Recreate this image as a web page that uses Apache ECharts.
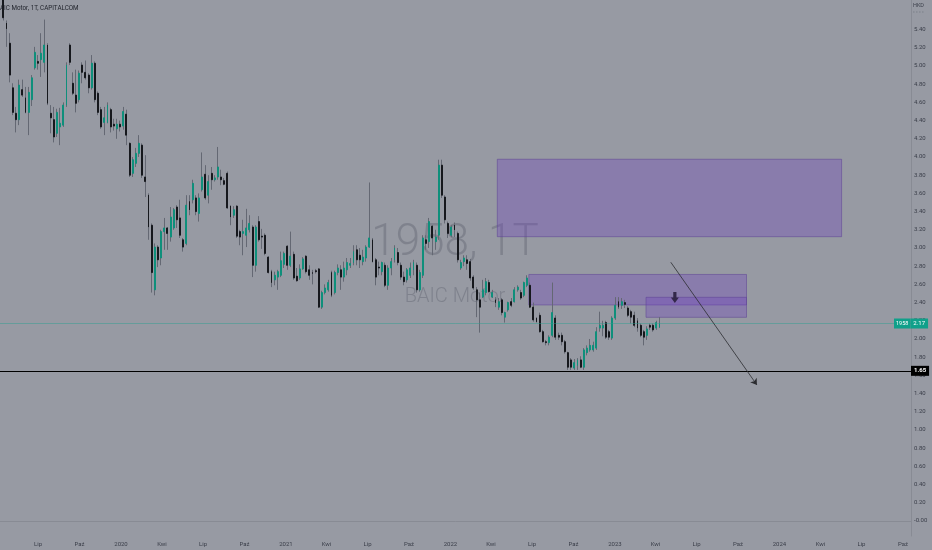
<!DOCTYPE html>
<html><head><meta charset="utf-8">
<script src="https://cdn.jsdelivr.net/npm/echarts@6/dist/echarts.min.js"></script>
<style>html,body{margin:0;padding:0;background:#979aa3;}#c{width:932px;height:550px;}</style>
</head><body><div id="c"></div>
<script>
const tickerCode = '1958';
const headerText = 'BAIC Motor, 1T, CAPITALCOM';
const watermarkMain = '1958, 1T';
const watermarkSub = 'BAIC Motor';
const firstWeek = '2019-04-15';

const open = [5.90,5.47,5.25,4.76,4.48,4.41,4.74,4.65,4.49,4.63,
4.98,5.05,5.07,5.04,5.23,4.48,4.41,4.26,4.33,4.35,
4.57,5.23,4.81,4.68,4.63,5.01,4.93,4.90,4.76,5.03,
4.70,4.52,4.38,4.38,4.52,4.36,4.31,4.36,4.34,4.47,
4.15,3.82,3.93,4.04,4.13,3.78,3.58,3.25,2.54,3.01,
2.89,3.18,3.22,3.12,3.22,3.45,3.33,3.09,3.05,3.51,
3.53,3.55,3.38,3.64,3.81,3.58,3.82,3.75,3.78,3.78,
3.74,3.82,3.46,3.36,3.46,3.18,3.16,3.14,3.20,3.23,
2.81,3.29,3.13,3.14,2.90,2.74,2.65,2.68,2.70,2.82,
3.02,2.81,2.93,2.69,2.67,2.77,2.91,2.76,2.73,2.75,
2.77,2.35,2.51,2.54,2.73,2.51,2.73,2.76,2.68,2.76,
2.81,2.84,2.98,2.92,2.85,2.89,3.01,3.09,2.87,2.79,
2.74,2.81,2.59,2.78,2.87,2.95,2.81,2.68,2.65,2.70,
2.76,2.81,2.54,2.70,3.09,3.07,3.24,3.07,3.14,3.91,
3.56,3.27,3.14,3.25,3.16,2.78,2.85,2.87,2.85,2.68,
2.54,2.43,2.46,2.51,2.62,2.46,2.43,2.35,2.43,2.24,
2.32,2.41,2.41,2.54,2.51,2.48,2.59,2.59,2.35,2.23,
2.26,2.08,1.97,1.96,2.04,2.23,2.04,2.04,1.97,1.85,
1.77,1.68,1.71,1.77,1.69,1.85,1.88,1.88,1.90,2.12,
2.12,2.18,2.08,2.01,2.23,2.41,2.37,2.40,2.34,2.30,
2.26,2.20,2.15,2.08,2.04,2.15,2.15,2.12,2.13];

const high = [5.98,5.50,5.36,4.81,4.55,4.85,4.85,4.77,4.77,4.90,
5.21,5.12,5.36,5.51,5.25,4.57,4.55,4.53,4.54,4.60,
5.04,5.25,4.93,4.96,4.95,5.04,5.06,4.92,5.12,5.05,
4.72,4.55,4.55,4.60,4.54,4.42,4.42,4.40,4.55,4.52,
4.16,4.00,4.10,4.24,4.15,4.02,3.60,3.27,3.05,3.03,
3.20,3.33,3.23,3.45,3.44,3.47,3.53,3.11,3.58,3.58,
3.75,3.58,3.60,4.05,3.91,3.80,3.89,3.80,4.11,3.86,
3.77,3.84,3.47,3.46,3.47,3.20,3.31,3.43,3.36,3.25,
3.25,3.35,3.21,3.16,2.91,2.76,2.74,2.76,2.96,2.96,
3.03,3.18,2.96,2.78,2.82,2.90,2.92,2.81,2.76,2.77,
2.78,2.53,2.60,2.65,2.75,2.75,2.82,2.81,2.85,2.89,
2.89,3.03,3.03,3.00,2.98,3.03,3.72,3.11,2.89,2.85,
2.85,2.84,2.81,2.89,3.03,3.00,2.84,2.74,2.78,2.84,
2.87,2.84,2.76,3.14,3.14,3.33,3.25,3.20,3.97,3.97,
3.58,3.29,3.25,3.28,3.18,2.87,2.92,2.92,2.88,2.70,
2.57,2.51,2.65,2.67,2.65,2.54,2.46,2.45,2.45,2.30,
2.41,2.45,2.57,2.59,2.54,2.63,2.70,2.62,2.40,2.24,
2.29,2.10,1.99,2.04,2.62,2.26,2.07,2.07,1.99,1.86,
1.79,1.78,1.79,1.81,1.90,1.93,2.00,1.97,2.13,2.30,
2.20,2.20,2.10,2.25,2.46,2.46,2.45,2.43,2.36,2.32,
2.30,2.23,2.17,2.10,2.14,2.17,2.17,2.20,2.24];

const low = [5.50,5.21,4.82,4.46,4.27,4.35,4.66,4.48,4.24,4.56,
4.96,4.96,4.88,4.93,4.57,4.26,4.16,4.22,4.13,4.33,
4.55,5.01,4.68,4.49,4.60,4.81,4.85,4.70,4.74,4.60,
4.46,4.31,4.24,4.37,4.27,4.29,4.20,4.28,4.30,4.13,
3.78,3.78,3.89,4.00,3.77,3.56,3.09,2.51,2.48,2.79,
2.81,2.98,2.98,3.07,3.20,3.22,3.11,2.96,3.03,3.36,
3.49,3.36,3.29,3.62,3.53,3.49,3.64,3.73,3.75,3.69,
3.69,3.43,3.25,3.33,3.11,3.03,2.92,3.01,3.17,2.68,
2.74,3.07,2.99,2.92,2.72,2.57,2.59,2.54,2.68,2.78,
2.76,2.79,2.65,2.63,2.65,2.76,2.72,2.65,2.60,2.72,
2.34,2.33,2.49,2.52,2.46,2.49,2.70,2.54,2.63,2.70,
2.78,2.81,2.81,2.78,2.81,2.85,3.00,2.84,2.59,2.70,
2.70,2.57,2.54,2.70,2.84,2.81,2.65,2.59,2.62,2.67,
2.70,2.51,2.52,2.67,2.98,3.00,2.92,2.98,3.09,3.55,
3.27,3.11,3.12,3.12,2.84,2.76,2.80,2.76,2.64,2.54,
2.24,2.07,2.45,2.48,2.51,2.45,2.35,2.32,2.26,2.18,
2.30,2.35,2.40,2.52,2.43,2.46,2.57,2.34,2.19,2.18,
2.07,1.96,1.93,1.93,2.02,1.99,1.99,1.93,1.84,1.66,
1.66,1.66,1.66,1.68,1.66,1.82,1.86,1.86,1.88,2.08,
2.03,2.00,1.99,1.99,2.21,2.33,2.33,2.34,2.24,2.17,
2.13,2.08,2.02,1.93,1.99,2.10,2.08,2.10,2.12];

const close = [5.53,5.41,4.90,4.49,4.41,4.79,4.68,4.49,4.71,4.87,
5.15,5.03,5.14,5.23,4.59,4.43,4.22,4.49,4.37,4.57,
5.01,5.04,4.70,4.59,4.92,4.93,4.87,4.76,5.03,4.63,
4.49,4.33,4.43,4.57,4.33,4.34,4.36,4.33,4.50,4.24,
3.80,3.97,4.04,4.15,3.80,3.73,3.23,2.73,3.01,2.87,
3.18,3.22,3.16,3.34,3.42,3.31,3.14,3.01,3.47,3.42,
3.71,3.40,3.55,3.78,3.55,3.73,3.75,3.77,3.89,3.75,
3.70,3.44,3.34,3.42,3.13,3.12,3.18,3.22,3.27,2.81,
3.23,3.09,3.12,2.94,2.73,2.62,2.70,2.74,2.86,2.94,
2.81,2.91,2.67,2.64,2.77,2.88,2.74,2.70,2.72,2.74,
2.35,2.51,2.56,2.62,2.48,2.73,2.78,2.68,2.78,2.84,
2.83,2.96,2.87,2.87,2.90,3.01,3.11,2.85,2.68,2.78,
2.84,2.59,2.78,2.85,3.00,2.84,2.68,2.63,2.76,2.78,
2.84,2.54,2.73,3.11,3.05,3.29,3.11,3.12,3.91,3.58,
3.31,3.16,3.23,3.20,2.87,2.84,2.89,2.83,2.67,2.56,
2.43,2.35,2.54,2.63,2.52,2.51,2.40,2.41,2.29,2.29,
2.40,2.37,2.54,2.57,2.45,2.62,2.67,2.35,2.21,2.19,
2.08,1.97,1.96,2.02,2.29,2.02,2.02,1.97,1.86,1.69,
1.69,1.74,1.77,1.69,1.88,1.90,1.93,1.93,2.08,2.15,
2.15,2.02,2.02,2.23,2.37,2.35,2.41,2.38,2.26,2.24,
2.15,2.12,2.04,2.02,2.11,2.13,2.10,2.18,2.17];

const yTicks = [0,0.2,0.4,0.6,0.8,1.0,1.2,1.4,1.6,1.8,2.0,2.2,2.4,2.6,2.8,3.0,3.2,3.4,3.6,3.8,4.0,4.2,4.4,4.6,4.8,5.0,5.2,5.4];
const xTicks = ['2019-07-01','2019-10-01','2020-01-01','2020-04-01','2020-07-01','2020-10-01',
'2021-01-01','2021-04-01','2021-07-01','2021-10-01','2022-01-01','2022-04-01','2022-07-01','2022-10-01',
'2023-01-01','2023-04-01','2023-07-01','2023-10-01','2024-01-01','2024-04-01','2024-07-01','2024-10-01'];
const monthNames = {3: 'Kwi', 6: 'Lip', 9: 'Paź'};
const xRange = ['2019-04-07T12:00:00Z', '2024-10-19T00:00:00Z'];
const yRange = [-0.165, 5.725];

const levelLine = 1.65;
const lastPrice = 2.17;
const zones = [
  ['2022-04-15', '2024-05-18', 3.975, 3.124],
  ['2022-06-24', '2023-10-20', 2.709, 2.374],
  ['2023-03-11', '2023-10-20', 2.458, 2.238]
];
const arrowFrom = ['2023-05-05', 2.843];
const arrowTo = ['2023-11-12', 1.495];
const signalPoint = ['2023-05-14', 2.456];

const ts = s => Date.parse(s.length === 10 ? s + 'T00:00:00Z' : s);
const WEEK = 7 * 86400000;
const t0 = ts(firstWeek);
const times = open.map((_, i) => t0 + i * WEEK);

const fullData = times.map((t, i) => [t, open[i], close[i], low[i], high[i]]);
const bodyData = times.map((t, i) => [t, open[i], close[i], Math.min(open[i], close[i]), Math.max(open[i], close[i])]);

const UP = '#0f8f7b', DOWN = '#16181d', WICK = '#646873', TAG = '#10a08a';
const FONT = 'Roboto, sans-serif';

const chart = echarts.init(document.getElementById('c'), null, {renderer: 'canvas'});
chart.setOption({
  animation: false,
  backgroundColor: '#979aa3',
  grid: {left: 0, right: 21, top: 0, bottom: 14, containLabel: false},
  xAxis: {
    type: 'value', min: ts(xRange[0]), max: ts(xRange[1]),
    axisLine: {show: true, lineStyle: {color: '#888b94', width: 1}},
    axisTick: {show: false},
    splitLine: {show: false},
    axisLabel: {
      customValues: xTicks.map(ts),
      color: '#3a3e49', fontSize: 6, fontFamily: FONT, margin: 5,
      formatter: v => { const d = new Date(v); const m = d.getUTCMonth(); return m === 0 ? String(d.getUTCFullYear()) : monthNames[m]; }
    }
  },
  yAxis: {
    type: 'value', position: 'right', min: yRange[0], max: yRange[1],
    axisLine: {show: true, lineStyle: {color: '#888b94', width: 1}},
    axisTick: {show: false},
    splitLine: {show: false},
    axisLabel: {
      customValues: yTicks,
      color: '#3a3e49', fontSize: 6, fontFamily: FONT, margin: 3,
      formatter: v => v === 0 ? '-0.00' : v.toFixed(2)
    }
  },
  graphic: [
    {type: 'text', x: 455, y: 244, z: 0, silent: true,
     style: {text: watermarkMain, fill: 'rgba(112,115,127,0.6)', font: '300 44px ' + FONT, textAlign: 'center', textVerticalAlign: 'middle'}},
    {type: 'text', x: 455, y: 297, z: 0, silent: true,
     style: {text: watermarkSub, fill: 'rgba(112,115,127,0.6)', font: '300 20px ' + FONT, textAlign: 'center', textVerticalAlign: 'middle'}},
    {type: 'text', x: -4, y: 8, z: 100, silent: true,
     style: {text: headerText, fill: '#1f222a', font: '6.3px ' + FONT, textAlign: 'left', textVerticalAlign: 'middle'}},
    {type: 'text', x: 913, y: 6, z: 100, silent: true,
     style: {text: 'HKD', fill: '#3a3e49', font: '5.5px ' + FONT, textAlign: 'left', textVerticalAlign: 'middle'}},
    {type: 'line', z: 100, silent: true, shape: {x1: 913, y1: 12, x2: 924, y2: 12},
     style: {stroke: '#6a6e78', lineWidth: 0.6, lineDash: [1.5, 1.5]}}
  ],
  series: [
    {
      name: 'wicks', type: 'candlestick', data: fullData, barWidth: 0.6, z: 2,
      itemStyle: {color: WICK, color0: WICK, borderColor: WICK, borderColor0: WICK, borderWidth: 1}
    },
    {
      name: 'bodies', type: 'candlestick', data: bodyData, barWidth: 1.4, z: 3,
      itemStyle: {color: UP, color0: DOWN, borderColor: UP, borderColor0: DOWN, borderWidth: 1}
    },
    {
      name: 'zones', type: 'line', data: [], z: 4,
      markArea: {
        silent: true,
        itemStyle: {color: 'rgba(108,64,190,0.33)', borderColor: 'rgba(95,70,150,0.55)', borderWidth: 1},
        data: zones.map(z => [{xAxis: ts(z[0]), yAxis: z[2]}, {xAxis: ts(z[1]), yAxis: z[3]}])
      }
    },
    {
      name: 'levels', type: 'line', data: [], z: 5,
      markLine: {
        silent: true, symbol: ['none', 'none'],
        data: [
          {yAxis: lastPrice,
           lineStyle: {color: 'rgba(40,160,145,0.45)', width: 1, type: 'solid'},
           label: {show: true, position: 'end', distance: -17,
             formatter: '{a|' + tickerCode + '}{b|' + lastPrice.toFixed(2) + '}',
             rich: {
               a: {backgroundColor: TAG, color: '#ffffff', fontSize: 5.5, fontFamily: FONT, padding: [2, 2, 2, 2]},
               b: {backgroundColor: TAG, color: '#ffffff', fontSize: 6, fontFamily: FONT, padding: [2, 3, 2, 3]}
             }}},
          {yAxis: levelLine,
           lineStyle: {color: '#000000', width: 1.2, type: 'solid'},
           label: {show: true, position: 'end', distance: 0, formatter: levelLine.toFixed(2),
             backgroundColor: '#000000', color: '#ffffff', fontSize: 6, fontWeight: 'bold', fontFamily: FONT, padding: [2, 3, 2, 3]}}
        ]
      }
    },
    {
      name: 'drawing', type: 'line', data: [], z: 6,
      markLine: {
        silent: true, symbol: ['none', 'arrow'], symbolSize: 6,
        lineStyle: {color: '#2b2c30', width: 0.8, type: 'solid'},
        label: {show: false},
        data: [[{coord: [ts(arrowFrom[0]), arrowFrom[1]]}, {coord: [ts(arrowTo[0]), arrowTo[1]]}]]
      },
      markPoint: {
        silent: true,
        symbol: 'path://M3,0 L7,0 L7,6 L10,6 L5,12 L0,6 L3,6 Z',
        symbolSize: [8, 11],
        itemStyle: {color: '#33284a'},
        label: {show: false},
        data: [{coord: [ts(signalPoint[0]), signalPoint[1]]}]
      }
    }
  ]
});
</script>
</body></html>
